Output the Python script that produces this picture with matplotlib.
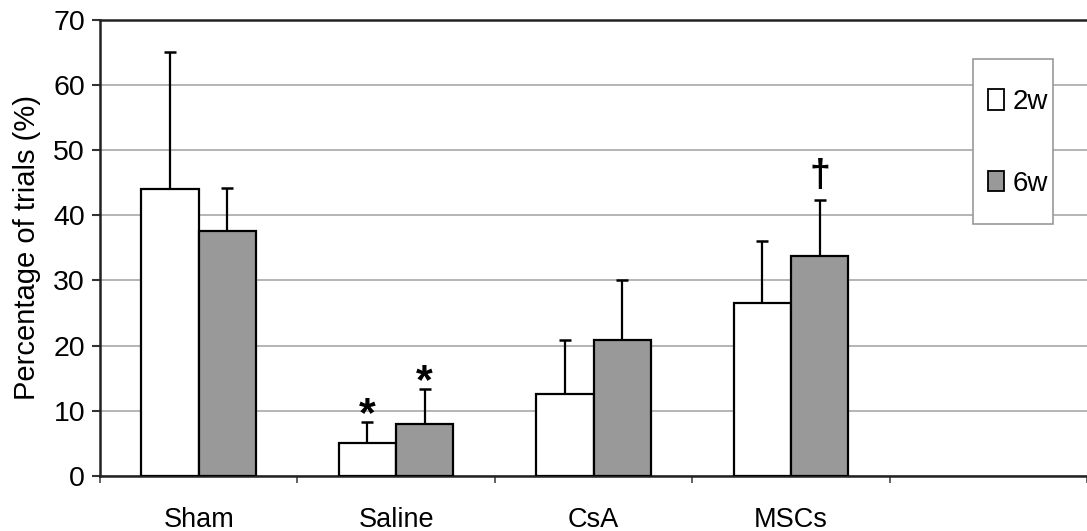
import matplotlib
matplotlib.use('Agg')
import matplotlib.pyplot as plt
import numpy as np
from matplotlib.patches import Patch, Rectangle

# ---- data ----
categories = ['Sham', 'Saline', 'CsA', 'MSCs']
series_labels = ['2w', '6w']
values_2w = [44.0, 5.0, 12.6, 26.5]
errors_2w = [21.0, 3.3, 8.2, 9.6]
values_6w = [37.5, 7.9, 20.8, 33.8]
errors_6w = [6.6, 5.5, 9.2, 8.5]
y_ticks = [0, 10, 20, 30, 40, 50, 60, 70]
ylabel = 'Percentage of trials (%)'
# significance marks: (category index, series index, symbol)
marks = [(1, 0, '*'), (1, 1, '*'), (3, 1, '\u2020')]

REG = ['Liberation Sans', 'DejaVu Sans']
plt.rcParams['font.family'] = REG

W, H = 1087, 531
fig = plt.figure(figsize=(W / 100, H / 100), dpi=100)
left, right, top, bottom = 100, 1087, 19.5, 476
ax = fig.add_axes([left / W, 1 - bottom / H, (right - left) / W, (bottom - top) / H])

n_slots = 5
x = np.arange(len(categories))
bw = 0.29
series = [(values_2w, errors_2w, 'white'), (values_6w, errors_6w, '#999999')]
offsets = [-bw / 2, bw / 2]
for (vals, errs, color), off in zip(series, offsets):
    ax.bar(x + off, vals, width=bw, color=color, edgecolor='black', linewidth=1.6, zorder=3)
    ax.errorbar(x + off, vals, yerr=[np.zeros(len(vals)), errs], fmt='none',
                ecolor='black', elinewidth=1.6, capsize=4, capthick=1.8, zorder=2)

# significance marks
for ci, si, sym in marks:
    vals, errs, _ = series[si]
    ytop = vals[ci] + errs[ci]
    if sym == '*':
        ax.annotate(sym, xy=(ci + offsets[si], ytop), xytext=(0, -3),
                    textcoords='offset points', ha='center', va='baseline',
                    fontsize=31, fontweight='bold', zorder=4)
    else:
        ax.annotate(sym, xy=(ci + offsets[si], ytop), xytext=(0, 10.5),
                    textcoords='offset points', ha='center', va='baseline',
                    fontsize=27, fontweight='bold', zorder=4)

ax.set_xlim(-0.5, n_slots - 0.5)
ax.set_ylim(0, 70)
ax.set_yticks(y_ticks)
ax.set_yticklabels([str(v) for v in y_ticks], fontsize=20.5)
ax.set_xticks(x)
ax.set_xticklabels(categories, fontsize=19.5)
ax.set_xticks(np.arange(-0.5, n_slots, 1.0), minor=True)
ax.tick_params(axis='x', which='major', length=0, pad=22)
ax.tick_params(axis='x', which='minor', length=5, width=1.3, color='#555555', direction='out')
ax.tick_params(axis='y', which='major', length=5.8, width=1.5, color='#333333', pad=5)

ax.yaxis.grid(True, color='#a8a8a8', linewidth=1.2, zorder=0)
ax.set_axisbelow(True)
for s in ['left', 'bottom', 'top']:
    ax.spines[s].set_color('#222222')
    ax.spines[s].set_linewidth(1.8)
ax.spines['right'].set_visible(False)

ax.set_ylabel(ylabel, fontsize=21)
ax.yaxis.label.set_va('center')
ax.yaxis.set_label_coords((27 - left) / (right - left), 0.5)

# legend box
bx0, bx1, by0, by1 = 973, 1053, 59, 224
rect = Rectangle((bx0 / W, 1 - by1 / H), (bx1 - bx0) / W, (by1 - by0) / H,
                 transform=fig.transFigure, facecolor='white', edgecolor='#999999',
                 linewidth=1.2, zorder=5, clip_on=False)
ax.add_patch(rect)
handles = [Patch(facecolor='white', edgecolor='black', linewidth=1.3),
           Patch(facecolor='#999999', edgecolor='black', linewidth=1.3)]
leg = ax.legend(handles, series_labels, loc='center', bbox_to_anchor=(1018 / W, 1 - 143 / H),
                bbox_transform=fig.transFigure, frameon=False, prop={'size': 20},
                handlelength=0.6, handleheight=0.75, handletextpad=0.3, labelspacing=2.0,
                borderpad=0)
leg.set_zorder(6)

fig.savefig('out.png', dpi=100, facecolor='white')
